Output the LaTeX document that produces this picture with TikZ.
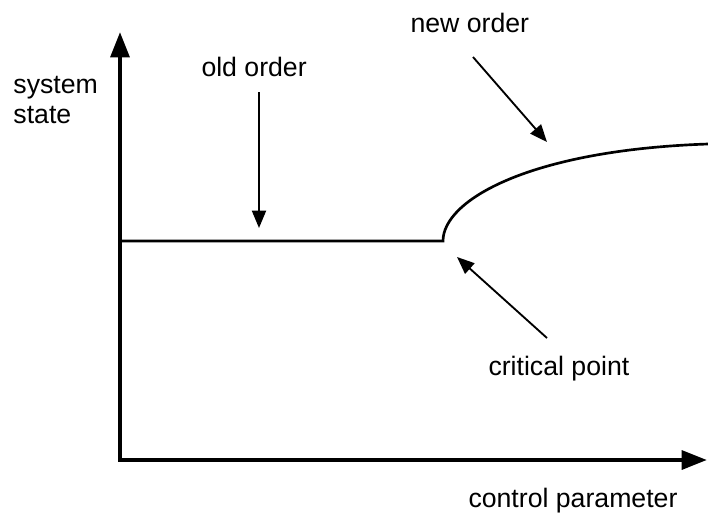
\documentclass[tikz,border=0pt]{standalone}
\usepackage{fontspec}
\setmainfont{Liberation Sans}
\usetikzlibrary{arrows.meta}

\tikzset{every picture/.style={line width=0.75pt}}
\tikzset{
  axis/.style={line width=3.2pt, line join=miter, {Triangle[length=19pt,width=14pt]}-{Triangle[length=19pt,width=14pt]}},
  statecurve/.style={line width=2pt, line join=miter},
  pointer/.style={line width=1.4pt, -{Triangle[length=13pt,width=10.5pt]}},
  labeltext/.style={inner sep=0pt, anchor=base west, font=\fontsize{20}{24}\selectfont}
}

\begin{document}
\begin{tikzpicture}[x=0.75pt,y=0.75pt,yscale=-1,xscale=1]
	\useasboundingbox (0,0) rectangle (708,512);

	% Axes
	\coordinate (ytop) at (120,32);
	\coordinate (origin) at (120,460);
	\coordinate (xend) at (707,460);
	\draw [axis] (ytop) -- (origin) -- (xend) ;

	% State: old order, then branch after critical point
	\coordinate (oldstart) at (120,241);
	\coordinate (crit) at (443,241);
	\coordinate (newend) at (708,144);
	\draw [statecurve] (oldstart) -- (crit) .. controls (443,200) and (530,150) .. (newend) ;

	% Text Node
	\node [labeltext] (sysstate) at (13,93) {system};
	% Text Node
	\node [labeltext] (sysstate2) at (13,123) {state};
	% Text Node
	\node [labeltext] (oldlbl) at (201,76) {old order};
	% Text Node
	\node [labeltext] (newlbl) at (410,32) {new order};
	% Text Node
	\node [labeltext] (critlbl) at (488,375) {critical point};
	% Text Node
	\node [labeltext] (ctrlpar) at (468,507) {control parameter};

	% Pointers
	\coordinate (oldtail) at (259,92);
	\coordinate (oldtip) at (259,228);
	\draw [pointer] (oldtail) -- (oldtip) ;
	\coordinate (newtail) at (473,57);
	\coordinate (newtip) at (547,142);
	\draw [pointer] (newtail) -- (newtip) ;
	\coordinate (crittail) at (547,338);
	\coordinate (crittip) at (457,257);
	\draw [pointer] (crittail) -- (crittip) ;

\end{tikzpicture}
\end{document}
